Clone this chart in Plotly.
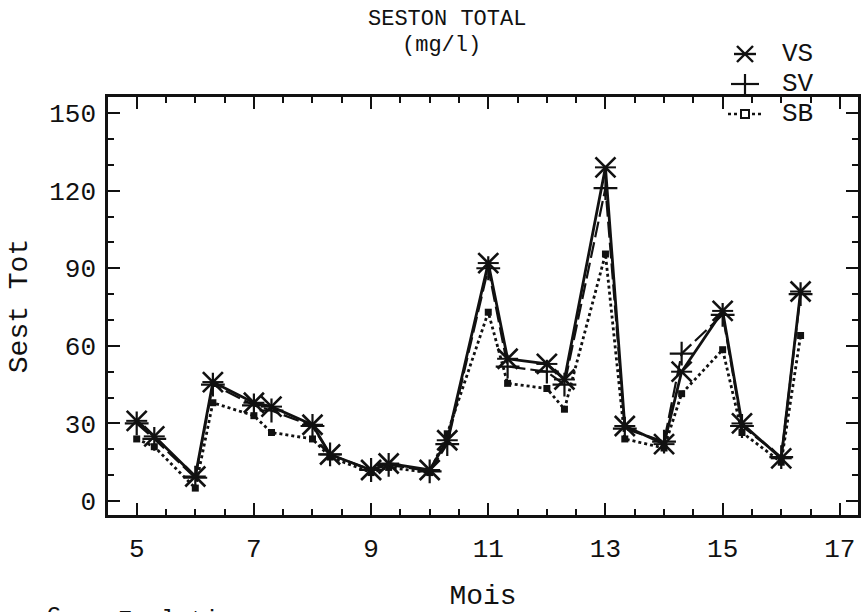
import plotly.graph_objects as go

# Sampling dates (month number, two samplings per month)
mois = [5, 5.3, 6, 6.3, 7, 7.3, 8, 8.3, 9, 9.3, 10, 10.3,
        11, 11.33, 12, 12.3, 13, 13.33, 14, 14.3, 15, 15.33, 16, 16.33]

# Total seston (mg/l) at the three stations
vs = [31, 25, 9.5, 46, 38, 36.5, 29.5, 18, 12, 14.5, 12, 23.5,
      92, 55, 53, 47, 129, 29, 22, 50, 73.5, 30, 16.5, 81]
sv = [30, 24, 9, 45, 37, 35, 29, 18, 12, 14, 11.5, 22,
      90, 52, 50, 45, 121, 28, 23, 57, 72, 29, 17, 80]
sb = [24, 21, 5, 38, 33, 26.5, 24, 17, 11, 13, 11, 26,
      73, 45.5, 43.5, 35.5, 95.5, 24, 20.5, 41.5, 58.5, 26.5, 15, 64]

stations = ["VS", "SV", "SB"]
x_ticks = [5, 7, 9, 11, 13, 15, 17]
y_ticks = [0, 30, 60, 90, 120, 150]

FONT = "Liberation Mono, Courier New, monospace"
INK = "#111111"

W, H = 864, 612
ML, MR, MT, MB = 108, 6, 97, 97


def px(x):
    """Horizontal pixel position -> paper coordinate."""
    return (x - ML) / (W - ML - MR)


def py(y):
    """Vertical pixel position (from top) -> paper coordinate."""
    return (H - MB - y) / (H - MT - MB)


fig = go.Figure()

fig.add_trace(go.Scatter(
    x=mois, y=sb, mode="lines+markers", name=stations[2],
    line=dict(color=INK, width=2.8, dash="dot"),
    marker=dict(symbol="square", size=7, color=INK),
))
fig.add_trace(go.Scatter(
    x=mois, y=sv, mode="lines+markers", name=stations[1],
    line=dict(color=INK, width=2.2, dash="16px,5px"),
    marker=dict(symbol="cross-thin-open", size=17, color=INK,
                line=dict(color=INK, width=2.2)),
))
fig.add_trace(go.Scatter(
    x=mois, y=vs, mode="lines+markers", name=stations[0],
    line=dict(color=INK, width=2.8),
    marker=dict(symbol="x-thin-open", size=20, color=INK,
                line=dict(color=INK, width=2.6)),
))
# horizontal bar completing the six-armed star of VS
fig.add_trace(go.Scatter(
    x=mois, y=vs, mode="markers", hoverinfo="skip",
    marker=dict(symbol="line-ew-open", size=15, color=INK,
                line=dict(color=INK, width=2)),
))

axis_common = dict(
    showline=True, linecolor=INK, linewidth=2.5, mirror="ticks",
    ticks="inside", tickcolor=INK, tickwidth=2, ticklen=12,
    showgrid=False, zeroline=False, automargin=False,
    tickfont=dict(family=FONT, size=26, color=INK),
)

# hand-drawn key in the top-right corner
key_x, key_text_x = 745, 780
key_rows = [54, 84, 114]
shapes = []
ky = key_rows[0]
for dx, dy in [(-8, -8), (-8, 8)]:
    shapes.append(dict(type="line", xref="paper", yref="paper",
                       x0=px(key_x + dx), y0=py(ky + dy), x1=px(key_x - dx), y1=py(ky - dy),
                       line=dict(color=INK, width=2.4)))
shapes.append(dict(type="line", xref="paper", yref="paper",
                   x0=px(key_x - 11), y0=py(ky), x1=px(key_x + 11), y1=py(ky),
                   line=dict(color=INK, width=2.4)))
ky = key_rows[1]
shapes.append(dict(type="line", xref="paper", yref="paper",
                   x0=px(key_x - 14), y0=py(ky), x1=px(key_x + 14), y1=py(ky),
                   line=dict(color=INK, width=2.2)))
shapes.append(dict(type="line", xref="paper", yref="paper",
                   x0=px(key_x), y0=py(ky - 10), x1=px(key_x), y1=py(ky + 10),
                   line=dict(color=INK, width=2.2)))
ky = key_rows[2]
shapes.append(dict(type="line", xref="paper", yref="paper",
                   x0=px(key_x - 17), y0=py(ky), x1=px(key_x + 17), y1=py(ky),
                   line=dict(color=INK, width=2.6, dash="dot")))
shapes.append(dict(type="rect", xref="paper", yref="paper",
                   x0=px(key_x - 4), y0=py(ky - 4), x1=px(key_x + 4), y1=py(ky + 4),
                   line=dict(color=INK, width=2), fillcolor="white"))

annotations = [
    dict(text="SESTON TOTAL", x=px(447), y=py(19), xref="paper", yref="paper",
         xanchor="center", yanchor="middle", showarrow=False,
         font=dict(family=FONT, size=22, color=INK)),
    dict(text="(mg/l)", x=px(441), y=py(45), xref="paper", yref="paper",
         xanchor="center", yanchor="middle", showarrow=False,
         font=dict(family=FONT, size=22, color=INK)),
    dict(text="6", x=px(44), y=py(600), xref="paper", yref="paper",
         xanchor="left", yanchor="top", showarrow=False,
         font=dict(family=FONT, size=26, color=INK)),
    dict(text="Evolution", x=px(116), y=py(605), xref="paper", yref="paper",
         xanchor="left", yanchor="top", showarrow=False,
         font=dict(family=FONT, size=24, color=INK)),
]
for name, row in zip(stations, key_rows):
    annotations.append(dict(text=name, x=px(key_text_x), y=py(row), xref="paper", yref="paper",
                            xanchor="left", yanchor="middle", showarrow=False,
                            font=dict(family=FONT, size=26, color=INK)))

fig.update_layout(
    width=W, height=H,
    margin=dict(l=ML, r=MR, t=MT, b=MB, autoexpand=False),
    paper_bgcolor="white", plot_bgcolor="white",
    showlegend=False,
    xaxis=dict(
        range=[4.51, 17.31], tickvals=x_ticks, ticktext=[str(v) for v in x_ticks],
        ticklabelstandoff=8,
        title=dict(text="Mois", font=dict(family=FONT, size=28, color=INK), standoff=30),
        minor=dict(dtick=0.5, tick0=0, ticks="inside", ticklen=6, tickwidth=1.5, tickcolor=INK),
        **axis_common,
    ),
    yaxis=dict(
        range=[-5.4, 156.2], tickvals=y_ticks, ticktext=[str(v) for v in y_ticks],
        ticklabelstandoff=4,
        title=dict(text="Sest Tot", font=dict(family=FONT, size=28, color=INK), standoff=14),
        minor=dict(dtick=10, tick0=0, ticks="inside", ticklen=6, tickwidth=1.5, tickcolor=INK),
        **axis_common,
    ),
    shapes=shapes,
    annotations=annotations,
)

fig.write_html("out.html")
